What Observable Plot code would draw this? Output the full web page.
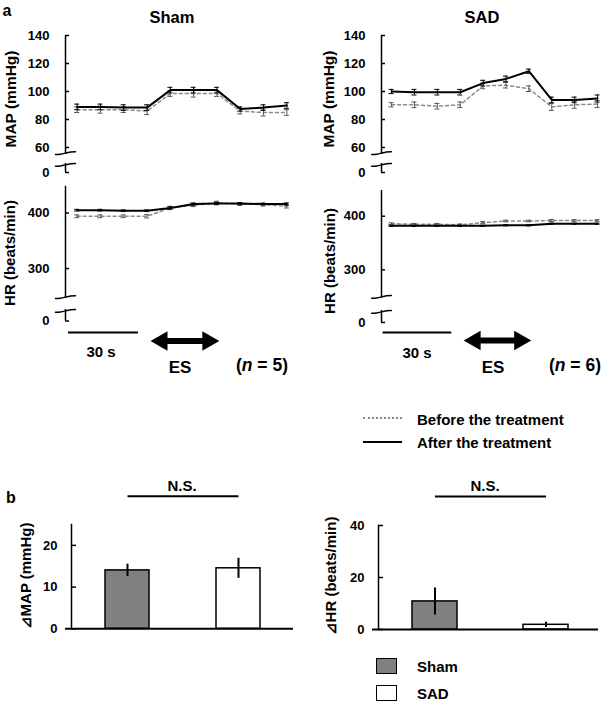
<!DOCTYPE html>
<html><head><meta charset="utf-8">
<script src="https://cdn.jsdelivr.net/npm/d3@7"></script>
<script src="https://cdn.jsdelivr.net/npm/@observablehq/plot@0.6"></script>
<style>
html,body{margin:0;padding:0;background:#fff;}
#fig{position:relative;width:610px;height:705px;overflow:hidden;font-family:"Liberation Sans",Arial,Helvetica,sans-serif;font-weight:bold;color:#000;}
#fig svg{position:absolute;left:0;top:0;}
.t{position:absolute;white-space:nowrap;line-height:1;}
</style></head><body><div id="fig"></div>
<script>
// ---------- data ----------
const timeS = [0, 10, 20, 30, 40, 50, 60, 70, 80, 90];

const shamMapBefore = [87, 87, 87, 86, 98.5, 98.5, 98.5, 86, 85, 85];
const shamMapAfter  = [89, 89, 88.5, 88.5, 101, 101, 101, 87.5, 88.5, 90];
const shamMapSemB   = [2, 2.5, 2, 2.5, 2, 2.5, 2, 2, 2.5, 2];
const shamMapSemA   = [2, 2, 2, 2, 2, 2, 2, 1.5, 2, 2];

const sadMapBefore  = [90.5, 90.5, 89.5, 90.5, 104, 104.5, 102, 89, 90.5, 91];
const sadMapAfter   = [100, 99.5, 99.5, 99.5, 106, 109, 114.5, 94, 94, 95];
const sadMapSemB    = [1.5, 2, 2, 2, 2, 2, 2, 2.5, 2.5, 2.5];
const sadMapSemA    = [1.5, 2, 2, 2, 2, 2, 1.5, 2, 2, 2.5];

const shamHrBefore  = [394, 394, 394, 394, 409, 414, 418, 416, 415, 412];
const shamHrAfter   = [405, 405, 404, 404, 409, 416, 417, 417, 416, 416];
const shamHrSemB    = [2.5, 2.5, 2.5, 3, 3, 2.5, 3, 2.5, 2.5, 3];
const shamHrSemA    = [1.5, 1.5, 1.5, 1.5, 2, 2, 2, 1.5, 1.5, 2];

const sadHrBefore   = [386, 385, 385, 384, 388, 391, 391, 392, 392, 392];
const sadHrAfter    = [382, 382, 382, 382, 382, 383, 383, 386, 386, 386];
const sadHrSemB     = [1.5, 1.5, 1.5, 1.5, 2, 1.5, 1.5, 2, 1.5, 1.5];
const sadHrSemA     = [1, 1, 1, 1, 1, 1, 1, 1, 1, 1];

const mapTicks = [60, 80, 100, 120, 140];
const hrTicks = [300, 400];
const zeroTick = [0];
const esPeriod = [31.5, 61];      // s
const scaleBar = [-3.7, 26.3];    // 30 s

const groups = ["Sham", "SAD"];
const dMap = [14.0, 14.5];
const dMapSem = [1.5, 2.4];
const dHr = [10.8, 1.8];
const dHrSem = [5.2, 1.0];
const dMapTicks = [0, 10, 20];
const dHrTicks = [0, 20, 40];
const barFills = ["#808080", "#ffffff"];

// ---------- drawing ----------
const fig = document.getElementById("fig");
const FONT = '"Liberation Sans", Arial, Helvetica, sans-serif';
const STYLE = {background: "transparent", overflow: "visible", fontFamily: FONT, fontSize: "13px", fontWeight: "bold", color: "black"};

function brkLine(t0, v0, dv) {
  return Plot.line([[-4.3, 0], [-2.2, 0.08], [0, 0.5], [2.2, 0.92], [4.3, 1]]
    .map(([dt, f]) => ({t: t0 + dt, v: v0 + f * dv})), {x: "t", y: "v", curve: "natural", strokeWidth: 1.5});
}

// a broken y axis: an upper plot (data) and a lower plot (the zero)
function linePanel(o) {
  const {before, after, semB, semA, xDomain, xRange, upDomain, upRange, lowDomain, lowRange, ticks, dvU, dvL, extra = []} = o;
  const b = timeS.map((t, i) => ({t, v: before[i], e: semB[i]}));
  const a = timeS.map((t, i) => ({t, v: after[i], e: semA[i]}));
  const t0 = xDomain[0];
  const err = (rows, stroke, w) => [
    Plot.ruleX(rows, {x: "t", y1: d => d.v - d.e, y2: d => d.v + d.e, stroke, strokeWidth: w}),
    Plot.ruleY(rows, {x1: "t", x2: "t", y: d => d.v + d.e, insetLeft: -2.5, insetRight: -2.5, stroke, strokeWidth: w}),
    Plot.ruleY(rows, {x1: "t", x2: "t", y: d => d.v - d.e, insetLeft: -2.5, insetRight: -2.5, stroke, strokeWidth: w})
  ];
  const common = {
    width: 610, height: 705,
    marginLeft: xRange[0], marginRight: 610 - xRange[1], marginTop: 0, marginBottom: 0,
    x: {domain: xDomain, range: xRange, axis: null},
    style: STYLE
  };
  const upper = Plot.plot({
    ...common,
    y: {domain: upDomain, range: upRange, axis: null},
    marks: [
      Plot.ruleX([t0], {y1: upDomain[0], y2: upDomain[1], strokeWidth: 1.5}),
      brkLine(t0, upDomain[0], dvU),
      Plot.axisY(ticks, {anchor: "left", tickSize: -4, tickPadding: 20, label: null, strokeWidth: 1.5}),
      Plot.line(b, {x: "t", y: "v", stroke: "#8a8a8a", strokeWidth: 1.5, strokeDasharray: "3,3"}),
      ...err(b, "#555", 1),
      Plot.line(a, {x: "t", y: "v", stroke: "black", strokeWidth: 2}),
      ...err(a, "black", 1)
    ]
  });
  const lower = Plot.plot({
    ...common,
    y: {domain: lowDomain, range: lowRange, axis: null},
    marks: [
      Plot.ruleX([t0], {y1: lowDomain[0], y2: lowDomain[1], strokeWidth: 1.5}),
      brkLine(t0, lowDomain[1] - dvL, dvL),
      Plot.axisY(zeroTick, {anchor: "left", tickSize: -4, tickPadding: 20, label: null, strokeWidth: 1.5}),
      ...extra
    ]
  });
  fig.appendChild(upper);
  fig.appendChild(lower);
}

function stimMarks(dyBar, dyArrow) {
  return [
    Plot.ruleY([0], {x1: scaleBar[0], x2: scaleBar[1], dy: dyBar, strokeWidth: 2}),
    Plot.ruleY([0], {x1: esPeriod[0], x2: esPeriod[1], dy: dyArrow, strokeWidth: 6, insetLeft: 10, insetRight: 10}),
    Plot.dot([esPeriod[0]], {x: d => d, y: 0, symbol: "triangle", r: 7.3, fill: "black", stroke: null, rotate: -90, dx: 11.3, dy: dyArrow}),
    Plot.dot([esPeriod[1]], {x: d => d, y: 0, symbol: "triangle", r: 7.3, fill: "black", stroke: null, rotate: 90, dx: -11.3, dy: dyArrow})
  ];
}

function barPanel(o) {
  const {values, sems, yDomain, yRange, xRange, padIn, ticks, axisX, rightX, nsLevel} = o;
  const data = groups.map((g, i) => ({g, v: values[i], e: sems[i]}));
  return Plot.plot({
    width: 610, height: 705,
    marginLeft: axisX, marginRight: 610 - rightX, marginTop: yRange[1], marginBottom: 705 - yRange[0],
    x: {type: "band", domain: groups, range: xRange, paddingInner: padIn, paddingOuter: 0, axis: null},
    y: {domain: yDomain, range: yRange, axis: null},
    color: {domain: groups, range: barFills},
    style: STYLE,
    marks: [
      Plot.barY(data, {x: "g", y: "v", fill: "g", stroke: "black", strokeWidth: 1.5}),
      Plot.ruleX(data, {x: "g", y1: d => d.v - d.e, y2: d => d.v + d.e, strokeWidth: 2}),
      Plot.frame({anchor: "left", strokeWidth: 1.5}),
      Plot.ruleY([0], {insetLeft: -6, strokeWidth: 2}),
      Plot.axisY(ticks, {anchor: "left", tickSize: -5, tickPadding: 19, label: null, strokeWidth: 1.5}),
      Plot.link([nsLevel], {x1: () => groups[0], x2: () => groups[1], y1: d => d, y2: d => d, strokeWidth: 2})
    ]
  });
}

linePanel({
  before: shamMapBefore, after: shamMapAfter, semB: shamMapSemB, semA: shamMapSemA,
  xDomain: [-5, 95], xRange: [65, 298],
  upDomain: [55, 140], upRange: [154, 35], lowDomain: [0, 6], lowRange: [172, 163],
  ticks: mapTicks, dvU: 2, dvL: 1.8
});
linePanel({
  before: sadMapBefore, after: sadMapAfter, semB: sadMapSemB, semA: sadMapSemA,
  xDomain: [-4.4, 95], xRange: [381, 608.5],
  upDomain: [55, 140], upRange: [154, 35], lowDomain: [0, 6], lowRange: [172, 163],
  ticks: mapTicks, dvU: 2, dvL: 1.8
});
linePanel({
  before: shamHrBefore, after: shamHrAfter, semB: shamHrSemB, semA: shamHrSemA,
  xDomain: [-5, 95], xRange: [65, 298],
  upDomain: [246, 448], upRange: [298, 185.8], lowDomain: [0, 17], lowRange: [320.5, 309],
  ticks: hrTicks, dvU: 5, dvL: 4,
  extra: stimMarks(11.5, 20)
});
linePanel({
  before: sadHrBefore, after: sadHrAfter, semB: sadHrSemB, semA: sadHrSemA,
  xDomain: [-4.4, 95], xRange: [381, 608.5],
  upDomain: [247, 448], upRange: [297.7, 190], lowDomain: [0, 20], lowRange: [322, 310],
  ticks: hrTicks, dvU: 5, dvL: 4.5,
  extra: stimMarks(10, 18)
});
fig.appendChild(barPanel({
  values: dMap, sems: dMapSem, yDomain: [0, 25], yRange: [628.3, 524],
  xRange: [104, 260], padIn: 0.607, ticks: dMapTicks, axisX: 71, rightX: 293, nsLevel: 31.8
}));
fig.appendChild(barPanel({
  values: dHr, sems: dHrSem, yDomain: [0, 40], yRange: [629, 525],
  xRange: [411, 568], padIn: 0.596, ticks: dHrTicks, axisX: 378, rightX: 598, nsLevel: 51.2
}));

// ---------- text & legends ----------
function label(txt, x, y, {size = 15, anchor = "middle", rotate = 0, html = false} = {}) {
  const d = document.createElement("div");
  d.className = "t";
  d.style.left = x + "px"; d.style.top = y + "px"; d.style.fontSize = size + "px";
  const tx = anchor === "start" ? "0" : anchor === "end" ? "-100%" : "-50%";
  d.style.transform = `translate(${tx},-50%)` + (rotate ? ` rotate(${rotate}deg)` : "");
  if (html) d.innerHTML = txt; else d.textContent = txt;
  fig.appendChild(d);
}
function box(x, y, w, h, css) {
  const d = document.createElement("div");
  d.style.position = "absolute";
  d.style.left = x + "px"; d.style.top = y + "px"; d.style.width = w + "px"; d.style.height = h + "px";
  d.style.boxSizing = "border-box";
  Object.assign(d.style, css);
  fig.appendChild(d);
}

label("a", 7, 11, {size: 16});
label("b", 11, 498, {size: 16});
label("Sham", 172, 17, {size: 16.5});
label("SAD", 482, 17, {size: 16.5});
label("MAP (mmHg)", 11, 99, {size: 15.5, rotate: -90});
label("MAP (mmHg)", 329, 99, {size: 15.5, rotate: -90});
label("HR (beats/min)", 9, 253, {size: 15, rotate: -90});
label("HR (beats/min)", 329, 261, {size: 15, rotate: -90});
label("30 s", 101, 351, {size: 15});
label("30 s", 417, 352, {size: 15});
label("ES", 180, 367, {size: 17});
label("ES", 493, 367, {size: 17});
label("(<i>n</i> = 5)", 262, 366, {size: 17.5, html: true});
label("(<i>n</i> = 6)", 575, 366, {size: 17.5, html: true});

box(363, 417, 39, 2, {borderTop: "2px dotted #8a8a8a"});
box(363, 441, 39, 2, {borderTop: "2px solid #000"});
label("Before the treatment", 417, 419, {size: 15, anchor: "start"});
label("After the treatment", 417, 442, {size: 15, anchor: "start"});

label("N.S.", 182, 485, {size: 15});
label("N.S.", 485, 485, {size: 15});
label("⊿MAP (mmHg)", 25, 576, {size: 15, rotate: -90});
label("⊿HR (beats/min)", 330, 576, {size: 15, rotate: -90});

box(376, 658, 21, 16, {border: "1.5px solid #000", background: barFills[0]});
box(376, 685, 21, 16, {border: "1.5px solid #000", background: barFills[1]});
label("Sham", 417, 666, {size: 15, anchor: "start"});
label("SAD", 417, 693, {size: 15, anchor: "start"});
</script>
</body></html>
